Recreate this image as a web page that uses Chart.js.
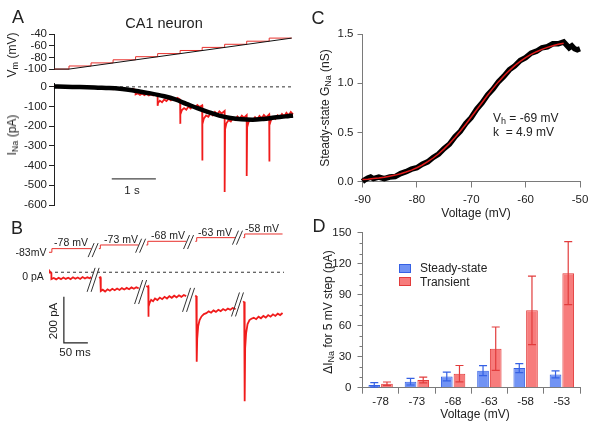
<!DOCTYPE html>
<html>
<head>
<meta charset="utf-8">
<script src="https://cdn.jsdelivr.net/npm/chart.js@4.4.1/dist/chart.umd.min.js"></script>
<style>
  body { margin: 0; background: #fff; }
  #fig { position: relative; width: 600px; height: 427px; overflow: hidden; background: #fff;
         font-family: 'Liberation Sans', Arial, sans-serif; color: #222; }
  canvas { position: absolute; }
  .t { position: absolute; white-space: nowrap; font-size: 12px; line-height: 1; transform: translate(-50%, -50%); }
  .l { position: absolute; white-space: nowrap; font-size: 12px; line-height: 1; transform: translate(0, -50%); }
  .rot { transform: translate(-50%, -50%) rotate(-90deg); }
  .pl { font-size: 18px; }
  .sm { font-size: 10.5px; }
  sub { font-size: 75%; vertical-align: -0.25em; line-height: 0; }
  .box { position: absolute; width: 10px; height: 7px; }
</style>
</head>
<body>
<div id="fig">
  <canvas id="aVm" width="300" height="78" style="left:0;top:0"></canvas>
  <canvas id="aI" width="300" height="145" style="left:0;top:75px"></canvas>
  <canvas id="b" width="300" height="200" style="left:0;top:220px"></canvas>
  <canvas id="c" width="300" height="220" style="left:300px;top:0"></canvas>
  <canvas id="d" width="300" height="207" style="left:300px;top:220px"></canvas>

  <div class="t pl" style="left:18px;top:17px">A</div>
  <div class="t" style="left:164px;top:23px;font-size:14.5px">CA1 neuron</div>
  <div class="t rot" style="left:12px;top:55px">V<sub>m</sub> (mV)</div>
  <div class="t rot" style="left:12px;top:135px">I<sub>Na</sub> (pA)</div>
  <div class="t" style="left:132px;top:191px;font-size:11.5px">1 s</div>

  <div class="t pl" style="left:17px;top:228px">B</div>
  <div class="t sm" style="left:31px;top:252px">-83mV</div>
  <div class="t sm" style="left:71px;top:242px">-78 mV</div>
  <div class="t sm" style="left:121px;top:239px">-73 mV</div>
  <div class="t sm" style="left:168px;top:235px">-68 mV</div>
  <div class="t sm" style="left:215px;top:232px">-63 mV</div>
  <div class="t sm" style="left:262px;top:228px">-58 mV</div>
  <div class="t sm" style="left:33px;top:276px">0 pA</div>
  <div class="t rot" style="left:54px;top:321px;font-size:11.5px">200 pA</div>
  <div class="t" style="left:75px;top:353px;font-size:11.5px">50 ms</div>

  <div class="t pl" style="left:318px;top:18px">C</div>
  <div class="t rot" style="left:325px;top:108px">Steady-state G<sub>Na</sub> (nS)</div>
  <div class="t" style="left:476px;top:213px">Voltage (mV)</div>
  <div class="l" style="left:493px;top:118px">V<sub>h</sub> = -69 mV</div>
  <div class="l" style="left:493px;top:132px">k&nbsp; = 4.9 mV</div>

  <div class="t pl" style="left:319px;top:226px">D</div>
  <div class="t rot" style="left:328px;top:312px">&Delta;I<sub>Na</sub> for 5 mV step (pA)</div>
  <div class="t" style="left:475px;top:414px">Voltage (mV)</div>
  <div class="box" style="left:399px;top:264px;background:#7193f4;border:1px solid #3561e4"></div>
  <div class="box" style="left:399px;top:277px;background:#f77c7c;border:1px solid #e23c3c"></div>
  <div class="l" style="left:420px;top:268px">Steady-state</div>
  <div class="l" style="left:420px;top:282px">Transient</div>
</div>

<script>
// ---- Panel A: voltage command (mV) vs time (s)
const vmTicks = [-40, -60, -80, -100];
const rampT = [0, 0.34, 5.39];
const rampV = [-100, -100, -47];
const stepT = [0, 0.34, 0.84, 1.34, 1.85, 2.35, 2.86, 3.36, 3.87, 4.37, 4.88, 5.39];
const stepV = [-100, -94.7, -89.4, -84.1, -78.8, -73.5, -68.2, -62.9, -57.6, -52.3, -47, -47];

// ---- Panel A: sodium current (pA), ramp (black) and steps (red)
const iTicks = [0, -100, -200, -300, -400, -500, -600];
const blackT = [0, 0.25, 0.5, 0.75, 1.0, 1.25, 1.5, 1.77, 2.0, 2.16, 2.5, 2.75, 3.0, 3.25, 3.5, 3.75, 4.0, 4.25, 4.5, 4.75, 5.0, 5.25, 5.42];
const blackI = [2, 0, -1, -2, -4, -6, -10, -17, -26, -32, -48, -64, -86, -108, -128, -146, -158, -165, -167, -163, -156, -150, -145];
const redT = [0, 0.1, 0.2, 0.3, 0.4, 0.5, 0.6, 0.7, 0.8, 0.9, 1.0, 1.1, 1.2, 1.3, 1.34, 1.4, 1.5, 1.6, 1.7, 1.8, 1.85,
  1.85, 1.9, 1.95, 2.0, 2.05, 2.1, 2.15, 2.2, 2.25, 2.3, 2.35,
  2.35, 2.36, 2.4, 2.45, 2.5, 2.55, 2.6, 2.65, 2.7, 2.75, 2.8, 2.86,
  2.86, 2.87, 2.9, 2.95, 3.0, 3.05, 3.1, 3.15, 3.2, 3.25, 3.3, 3.36,
  3.36, 3.37, 3.4, 3.45, 3.5, 3.55, 3.6, 3.65, 3.7, 3.75, 3.8, 3.87,
  3.87, 3.88, 3.91, 3.96, 4.01, 4.06, 4.11, 4.16, 4.21, 4.26, 4.31, 4.37,
  4.37, 4.38, 4.41, 4.46, 4.51, 4.56, 4.61, 4.66, 4.71, 4.76, 4.81, 4.88,
  4.88, 4.89, 4.92, 4.97, 5.02, 5.07, 5.12, 5.17, 5.22, 5.27, 5.32, 5.37, 5.42];
const redI = [4, -2, 5, -3, 3, -4, 2, -3, 1, -5, -1, -7, -3, -8, -12, -8, -14, -9, -15, -11, -16,
  -38, -33, -41, -34, -42, -35, -43, -37, -44, -38, -45,
  -96, -82, -70, -78, -64, -72, -60, -68, -57, -66, -56, -64,
  -188, -140, -118, -108, -116, -100, -110, -95, -105, -92, -102, -94,
  -374, -190, -160, -145, -152, -135, -145, -128, -140, -124, -135, -122,
  -534, -215, -185, -168, -176, -158, -168, -150, -162, -146, -157, -144,
  -453, -205, -180, -165, -172, -154, -165, -148, -160, -143, -155, -140,
  -379, -195, -170, -155, -163, -145, -155, -138, -150, -132, -145, -128, -140];
const aZeroT = [0, 5.42];
const aBarT = [1.31, 2.31];   // 1 s scale bar
const aBarI = [-467, -467];

// ---- Panel B: step protocol, time in ms with breaks (null = break)
const bvT = [0, 6, 6, 88, 96, 104, 107, 107, 187, 195, 203, 206, 206, 286, 296, 305, 308, 308, 389, 397, 405, 408, 408, 487];
const bvV = [-83, -83, -78, -78, null, -78, -78, -73, -73, null, -73, -73, -68, -68, null, -68, -68, -63, -63, null, -63, -63, -58, -58];
const bT = [0, 2, 4, 5, 5, 10, 15, 20, 25, 30, 35, 40, 45, 50, 55, 60, 65, 70, 75, 80, 85, 88, 96,
  104, 107, 108, 108, 112, 117, 122, 127, 132, 137, 142, 147, 152, 157, 162, 167, 172, 177, 182, 187, 195,
  203, 206, 207, 207, 208, 210, 213, 217, 221, 226, 231, 236, 241, 246, 251, 256, 261, 266, 271, 276, 281, 286, 296,
  305, 307, 308, 308, 309, 311, 314, 318, 323, 328, 333, 338, 343, 348, 353, 358, 363, 368, 373, 378, 383, 389, 397,
  405, 407, 408, 408, 409, 411, 414, 418, 422, 427, 432, 437, 442, 447, 452, 457, 462, 467, 472, 477, 482, 487];
const bI = [-2, 3, -3, -4, -30, -25, -31, -24, -30, -23, -29, -24, -30, -22, -28, -23, -29, -21, -27, -22, -26, -21, null,
  -24, -22, -26, -82, -76, -84, -74, -80, -72, -78, -71, -77, -69, -75, -68, -74, -66, -72, -65, -70, null,
  -60, -64, -62, -193, -150, -132, -120, -126, -114, -121, -110, -117, -107, -114, -104, -111, -102, -109, -100, -107, -99, -104, null,
  -101, -105, -103, -389, -290, -235, -208, -192, -182, -178, -170, -176, -166, -172, -163, -169, -160, -166, -158, -163, -155, -160, null,
  -126, -131, -128, -560, -330, -265, -225, -208, -202, -198, -204, -193, -200, -190, -197, -186, -193, -183, -190, -180, -186, -177];
const bZeroT = [0, 490];
const bBarT = [31, 31, 81];        // 200 pA / 50 ms scale bar
const bBarI = [-107, -307, -307];
const brkT = [92, 191, 291, 393];
const brkV = [-80, -74, -69, -63];
const brkI = [-33, -86, -120, -140];

// ---- Panel C: steady-state conductance vs voltage
const cXTicks = [-90, -80, -70, -60, -50];
const cYTicks = [0, 0.5, 1, 1.5];
const cYLabels = ['0.0', '0.5', '1.0', '1.5'];
const cDataV = [-90, -89.5, -89, -88.5, -88, -87, -86, -85, -84, -83, -82, -81, -80, -79, -78, -77, -76, -75, -74, -73, -72, -71,
  -70, -69, -68, -67, -66, -65, -64, -63, -62, -61, -60, -59, -58, -57, -56, -55, -54, -53, -52.5, -52, -51.5, -51, -50.5, -50];
const cDataG = [0.0, 0.02, 0.035, 0.045, 0.03, 0.045, 0.03, 0.045, 0.05, 0.08, 0.1, 0.125, 0.14, 0.175, 0.2, 0.245, 0.28, 0.335, 0.38, 0.455,
  0.51, 0.59, 0.65, 0.735, 0.8, 0.88, 0.94, 1.015, 1.07, 1.135, 1.175, 1.23, 1.26, 1.305, 1.325, 1.36, 1.37, 1.4, 1.4, 1.42, 1.39,
  1.36, 1.38, 1.35, 1.34, 1.35];
const cFitV = [-90, -89, -88, -87, -86, -85, -84, -83, -82, -81, -80, -79, -78, -77, -76, -75, -74, -73, -72, -71, -70, -69,
  -68, -67, -66, -65, -64, -63, -62, -61, -60, -59, -58, -57, -56, -55, -54, -53];
const cFitG = [0.020, 0.024, 0.030, 0.036, 0.044, 0.054, 0.065, 0.079, 0.096, 0.116, 0.140, 0.168, 0.201, 0.239, 0.282, 0.332,
  0.387, 0.448, 0.513, 0.583, 0.656, 0.730, 0.804, 0.877, 0.947, 1.013, 1.073, 1.128, 1.178, 1.221, 1.260, 1.292, 1.320, 1.344,
  1.364, 1.381, 1.395, 1.406];

// ---- Panel D: current increment per 5 mV step
const dLabels = ['-78', '-73', '-68', '-63', '-58', '-53'];
const dYTicks = [0, 30, 60, 90, 120, 150];
const dMinorTicks = [10, 20, 40, 50, 70, 80, 100, 110, 130, 140];
const ssMean = [2.7, 5.8, 10.8, 16.5, 19.0, 12.9];
const ssErr = [2.2, 3.2, 4.2, 4.8, 4.4, 3.4];
const trMean = [3.9, 7.4, 13.6, 37.8, 75.0, 111.0];
const trErr = [1.6, 2.8, 7.9, 21.0, 33.2, 30.5];

const FONT = "'Liberation Sans', Arial, sans-serif";
const AXIS_DARK = '#222';
const AXIS_GRAY = '#7a7a7a';

function pts(xs, ys) {
  return xs.map((x, i) => ({ x: x, y: ys[i] }));
}

function baseOptions(padding) {
  return {
    animation: false,
    responsive: false,
    devicePixelRatio: 1,
    events: [],
    layout: { padding: padding },
    plugins: { legend: { display: false }, tooltip: { enabled: false } },
    elements: { point: { radius: 0 }, line: { tension: 0 } },
    font: { family: FONT }
  };
}

// visible left axis with explicit tick values
function leftAxis(min, max, values, width, color, padding, labels) {
  return {
    min: min, max: max,
    afterBuildTicks: s => { s.ticks = values.map(v => ({ value: v })); },
    afterFit: s => { s.width = width; },
    border: { color: color, width: 1 },
    grid: { drawOnChartArea: false, tickLength: 5, tickColor: color },
    ticks: {
      autoSkip: false,
      padding: padding, color: '#222', font: { family: FONT, size: 11.5 },
      callback: labels ? (v, i) => labels[i] : (v => String(v))
    }
  };
}

Chart.defaults.font.family = FONT;

// Panel A, top
new Chart(document.getElementById('aVm'), {
  type: 'line',
  data: { datasets: [
    { data: pts(rampT, rampV), borderColor: '#111', borderWidth: 1, clip: false },
    { data: pts(stepT, stepV), borderColor: '#e8302c', borderWidth: 1, stepped: true, clip: false }
  ] },
  options: Object.assign(baseOptions({ top: 34, right: 7, bottom: 7, left: 0 }), {
    scales: {
      x: { type: 'linear', display: false, min: 0, max: 5.42 },
      y: leftAxis(-100, -40, vmTicks, 54, AXIS_DARK, 2)
    }
  })
});

// Panel A, bottom
new Chart(document.getElementById('aI'), {
  type: 'line',
  data: { datasets: [
    { data: pts(blackT, blackI), borderColor: '#000', borderWidth: 4.5, cubicInterpolationMode: 'monotone', clip: false },
    { data: pts(redT, redI), borderColor: '#f01c1c', borderWidth: 1.8, clip: false },
    { data: pts(aZeroT, [0, 0]), borderColor: '#333', borderWidth: 1, borderDash: [3, 3] },
    { data: pts(aBarT, aBarI), borderColor: '#444', borderWidth: 1.3 }
  ] },
  options: Object.assign(baseOptions({ top: 8, right: 7, bottom: 15, left: 0 }), {
    scales: {
      x: { type: 'linear', display: false, min: 0, max: 5.42 },
      y: leftAxis(-600, 15, iTicks, 54, AXIS_DARK, 2)
    }
  })
});

// break marks for panel B, placed through the chart scales
const breakMarks = {
  id: 'breakMarks',
  afterDatasetsDraw(chart) {
    const { ctx, scales } = chart;
    ctx.save();
    ctx.strokeStyle = '#333';
    ctx.lineWidth = 1;
    brkT.forEach((t, i) => {
      const x = scales.x.getPixelForValue(t);
      [[scales.yV.getPixelForValue(brkV[i]), 7, 3], [scales.yI.getPixelForValue(brkI[i]), 12, 4]].forEach(([y, h, s]) => {
        ctx.beginPath();
        [-2, 2].forEach(dx => {
          ctx.moveTo(x + dx - s, y + h);
          ctx.lineTo(x + dx + s, y - h);
        });
        ctx.stroke();
      });
    });
    ctx.restore();
  }
};

// Panel B
new Chart(document.getElementById('b'), {
  type: 'line',
  data: { datasets: [
    { data: pts(bvT, bvV), yAxisID: 'yV', borderColor: '#e8302c', borderWidth: 1 },
    { data: pts(bT, bI), yAxisID: 'yI', borderColor: '#f01c1c', borderWidth: 1.8 },
    { data: pts(bZeroT, [0, 0]), yAxisID: 'yI', borderColor: '#333', borderWidth: 1, borderDash: [3, 3] },
    { data: pts(bBarT, bBarI), yAxisID: 'yI', borderColor: '#222', borderWidth: 1.2 }
  ] },
  options: Object.assign(baseOptions({ top: 0, right: 16, bottom: 0, left: 49 }), {
    spanGaps: false,
    scales: {
      x: { type: 'linear', display: false, min: 0, max: 490 },
      yV: { display: false, min: -312, max: -38.9 },
      yI: { display: false, min: -642, max: 227 }
    }
  }),
  plugins: [breakMarks]
});

// Panel C
new Chart(document.getElementById('c'), {
  type: 'scatter',
  data: { datasets: [
    { data: pts(cFitV, cFitG), showLine: true, borderColor: '#e01b1b', borderWidth: 1.5, pointRadius: 0, clip: false },
    { data: pts(cDataV, cDataG), showLine: true, borderColor: '#000', borderWidth: 5.5, pointRadius: 0, clip: false }
  ] },
  options: Object.assign(baseOptions({ top: 34, right: 20, bottom: 0, left: 0 }), {
    scales: {
      x: {
        type: 'linear', min: -90, max: -50,
        afterBuildTicks: s => { s.ticks = cXTicks.map(v => ({ value: v })); },
        afterFit: s => { s.height = 38.5; },
        border: { color: AXIS_GRAY },
        grid: { drawOnChartArea: false, tickLength: 6, tickColor: AXIS_GRAY },
        ticks: { autoSkip: false, padding: 5, color: '#222', font: { size: 11.5 } }
      },
      y: leftAxis(0, 1.5, cYTicks, 62.5, AXIS_GRAY, 4, cYLabels)
    }
  })
});

// error bars and minor ticks for panel D
const errorBars = {
  id: 'errorBars',
  afterDatasetsDraw(chart) {
    const { ctx } = chart;
    const y = chart.scales.y;
    chart.data.datasets.forEach((ds, i) => {
      chart.getDatasetMeta(i).data.forEach((bar, j) => {
        const top = y.getPixelForValue(ds.data[j] + ds.errors[j]);
        const bot = y.getPixelForValue(ds.data[j] - ds.errors[j]);
        ctx.save();
        ctx.strokeStyle = ds.borderColor;
        ctx.lineWidth = 1.2;
        ctx.beginPath();
        ctx.moveTo(bar.x, top); ctx.lineTo(bar.x, bot);
        ctx.moveTo(bar.x - 4, top); ctx.lineTo(bar.x + 4, top);
        ctx.moveTo(bar.x - 4, bot); ctx.lineTo(bar.x + 4, bot);
        ctx.stroke();
        ctx.restore();
      });
    });
  }
};
const minorTicks = {
  id: 'minorTicks',
  afterDraw(chart) {
    const { ctx } = chart;
    const y = chart.scales.y;
    ctx.save();
    ctx.strokeStyle = AXIS_GRAY;
    ctx.lineWidth = 1;
    ctx.beginPath();
    dMinorTicks.forEach(v => {
      const py = Math.round(y.getPixelForValue(v)) + 0.5;
      ctx.moveTo(y.right - 3, py);
      ctx.lineTo(y.right, py);
    });
    ctx.stroke();
    ctx.restore();
  }
};

// Panel D
new Chart(document.getElementById('d'), {
  type: 'bar',
  data: {
    labels: dLabels,
    datasets: [
      { label: 'Steady-state', data: ssMean, errors: ssErr, backgroundColor: '#7193f4', borderColor: '#3561e4',
        borderWidth: 1, categoryPercentage: 0.7, barPercentage: 0.92 },
      { label: 'Transient', data: trMean, errors: trErr, backgroundColor: '#f77c7c', borderColor: '#e23c3c',
        borderWidth: 1, categoryPercentage: 0.7, barPercentage: 0.92 }
    ]
  },
  options: Object.assign(baseOptions({ top: 12, right: 20, bottom: 0, left: 0 }), {
    scales: {
      x: {
        afterFit: s => { s.height = 39.3; },
        border: { color: AXIS_GRAY },
        grid: { offset: true, drawOnChartArea: false, tickLength: 6, tickColor: AXIS_GRAY },
        ticks: { autoSkip: false, padding: 1, color: '#222', font: { size: 11.5 } }
      },
      y: leftAxis(0, 150, dYTicks, 62.5, AXIS_GRAY, 6)
    }
  }),
  plugins: [errorBars, minorTicks]
});
</script>
</body>
</html>
